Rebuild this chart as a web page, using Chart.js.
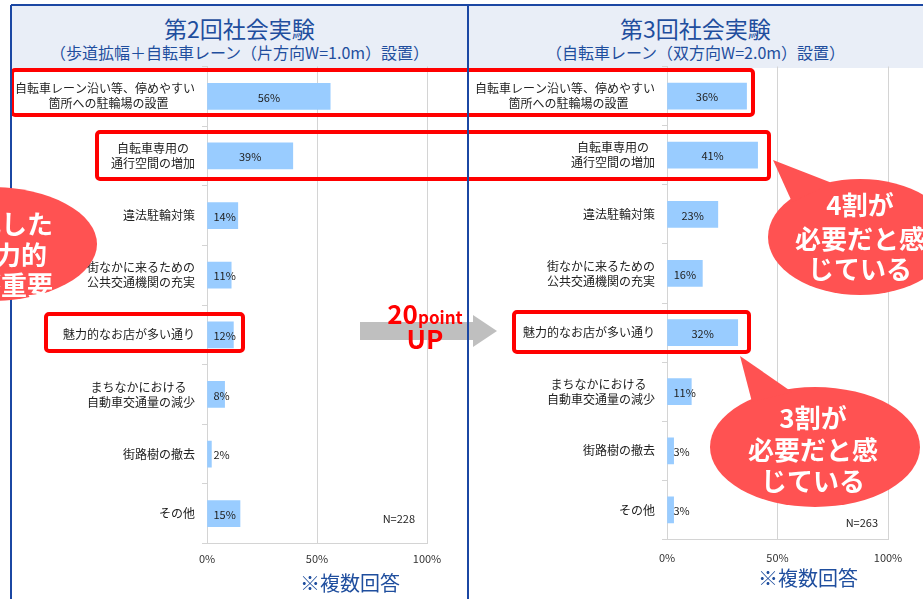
<!DOCTYPE html>
<html lang="ja">
<head>
<meta charset="utf-8">
<script src="https://cdn.jsdelivr.net/npm/chart.js@4.4.1/dist/chart.umd.min.js"></script>
<style>
  html, body { margin: 0; padding: 0; background: #fff; }
  body {
    width: 923px; height: 599px; position: relative; overflow: hidden;
    font-family: "Noto Sans CJK JP", "Noto Sans", sans-serif;
  }
  .head {
    position: absolute; top: 5px; height: 63px;
    background: #e9eef7; color: #1f4e9e; text-align: center;
  }
  .head .t1 { font-size: 23px; line-height: 28px; margin-top: 9px; }
  .head .t2 { font-size: 16px; line-height: 20px; }
  canvas { position: absolute; }
  svg { position: absolute; left: 0; top: 0; }
</style>
</head>
<body>

<div class="head" style="left:11px; width:457px;">
  <div class="t1">第2回社会実験</div>
  <div class="t2">（歩道拡幅＋自転車レーン（片方向W=1.0m）設置）</div>
</div>
<div class="head" style="left:468px; width:455px;">
  <div class="t1">第3回社会実験</div>
  <div class="t2">（自転車レーン（双方向W=2.0m）設置）</div>
</div>

<canvas id="chart2" width="457" height="540" style="left:11px; top:50px;"></canvas>
<canvas id="chart3" width="453" height="540" style="left:470px; top:50px;"></canvas>

<svg width="923" height="599" viewBox="0 0 923 599">
  <!-- arrow between the two panels -->
  <polygon points="360,322 473,322 473,315 497,331 473,347 473,340 360,340" fill="#bfbfbf"/>

  <!-- red highlight boxes -->
  <g fill="none" stroke="#ff0000" stroke-width="4">
    <rect x="12" y="70" width="741" height="45" rx="3"/>
    <rect x="97" y="132" width="672" height="47" rx="3"/>
    <rect x="46" y="314" width="197" height="37" rx="3"/>
    <rect x="514" y="312" width="235" height="40" rx="3"/>
  </g>

  <!-- panel borders -->
  <g stroke="#1b47a3" stroke-width="2">
    <line x1="11" y1="5" x2="923" y2="5"/>
    <line x1="11" y1="5" x2="11" y2="599"/>
    <line x1="468" y1="5" x2="468" y2="599"/>
  </g>

  <text x="425" y="324" text-anchor="middle" font-weight="bold" fill="#ff0000"><tspan font-size="26">20</tspan><tspan font-size="17">point</tspan></text>
  <text x="425" y="349" text-anchor="middle" font-weight="bold" font-size="26" fill="#ff0000">UP</text>

  <!-- callouts -->
  <g fill="#ff5252">
    <ellipse cx="-10" cy="244" rx="107" ry="57"/>
    <ellipse cx="860" cy="237" rx="92" ry="58"/>
    <polygon points="773,160 792,202 832,183"/>
    <ellipse cx="815" cy="447" rx="105" ry="60"/>
    <polygon points="740,356 752,402 792,392"/>
  </g>
  <g fill="#ffffff" font-weight="bold" font-size="26" dominant-baseline="central">
    <text x="53" y="222" text-anchor="end">性化した</text>
    <text x="47" y="253" text-anchor="end">な魅力的</text>
    <text x="53" y="283" text-anchor="end">が重要</text>
    <text x="860" y="203" text-anchor="middle">4割が</text>
    <text x="860" y="237" text-anchor="middle">必要だと感</text>
    <text x="860" y="267" text-anchor="middle">じている</text>
    <text x="813" y="416" text-anchor="middle">3割が</text>
    <text x="813" y="448" text-anchor="middle">必要だと感</text>
    <text x="813" y="479" text-anchor="middle">じている</text>
  </g>

  <g font-size="11" fill="#222" dominant-baseline="central" text-anchor="end">
    <text x="415" y="518">N=228</text>
    <text x="878" y="522">N=263</text>
  </g>
  <g font-size="20" fill="#1f4e9e" dominant-baseline="central">
    <text x="300" y="582">※複数回答</text>
    <text x="758" y="577">※複数回答</text>
  </g>
</svg>

<script>
// 必要だと感じる取り組み（複数回答）
const categories = [
  ['自転車レーン沿い等、停めやすい', '箇所への駐輪場の設置\u2003\u2003\u2009'],
  ['自転車専用の\u2002', '通行空間の増加'],
  '違法駐輪対策',
  ['街なかに来るための', '公共交通機関の充実'],
  '魅力的なお店が多い通り',
  ['まちなかにおける\u2002\u2009', '自動車交通量の減少'],
  '街路樹の撤去',
  'その他'
]
const values2nd = [56, 39, 14, 11, 12, 8, 2, 15]   // 第2回 N=228
const values3rd = [36, 41, 23, 16, 32, 11, 3, 3]   // 第3回 N=263
const percentTicks = [0, 50, 100]

const FONT = '"Noto Sans CJK JP", "Noto Sans", sans-serif'

// value labels: centered in the bar, pushed right when the bar is too short
const valueLabels = {
  id: 'valueLabels',
  afterDatasetsDraw(chart) {
    const ctx = chart.ctx
    const meta = chart.getDatasetMeta(0)
    const data = chart.data.datasets[0].data
    ctx.save()
    ctx.font = '11px ' + FONT
    ctx.fillStyle = '#222'
    ctx.textBaseline = 'middle'
    ctx.textAlign = 'left'
    meta.data.forEach((bar, i) => {
      const text = data[i] + '%'
      const w = ctx.measureText(text).width
      const x = Math.max((bar.base + bar.x) / 2 - w / 2, bar.base + 6)
      ctx.fillText(text, x, bar.y + 1)
    })
    ctx.restore()
  }
}

function makeChart(id, values, cfg) {
  return new Chart(document.getElementById(id), {
    type: 'bar',
    data: {
      labels: categories,
      datasets: [{
        data: values,
        backgroundColor: '#99ccff',
        barThickness: 26
      }]
    },
    options: {
      indexAxis: 'y',
      responsive: false,
      animation: false,
      layout: { padding: { top: 0, right: cfg.padRight, bottom: 20, left: 0 } },
      plugins: {
        legend: { display: false },
        tooltip: { enabled: false }
      },
      scales: {
        x: {
          min: 0,
          max: 100,
          afterBuildTicks: scale => { scale.ticks = percentTicks.map(v => ({ value: v })) },
          afterFit: scale => { scale.height = 30 },
          ticks: {
            callback: v => v + '%',
            padding: cfg.xTickPad,
            color: '#333',
            font: { size: 11, family: FONT }
          },
          grid: { color: '#d4d4d4', drawTicks: false },
          border: { color: '#d4d4d4' }
        },
        y: {
          afterFit: scale => { scale.width = cfg.yWidth },
          ticks: {
            autoSkip: false,
            padding: 7,
            color: '#222',
            font: { size: 12, family: FONT, lineHeight: 1.25 }
          },
          grid: { drawOnChartArea: false, tickLength: 5, color: '#d4d4d4' },
          border: { color: '#d4d4d4' }
        }
      }
    },
    plugins: [valueLabels]
  })
}

// the multi-line first label makes Chart.js add space on top,
// so move the canvas until the plot area sits where the original has it
function pinPlotArea(chart, wantTop, wantBottom) {
  const canvas = chart.canvas
  const top = parseFloat(canvas.style.top)
  const newTop = wantTop - chart.chartArea.top
  canvas.style.top = newTop + 'px'
  const bottomInCanvas = wantBottom - newTop
  chart.options.layout.padding.bottom += chart.chartArea.bottom - bottomInCanvas
  chart.update()
}

const chart2 = makeChart('chart2', values2nd, { yWidth: 196, xTickPad: 9, padRight: 41 })
const chart3 = makeChart('chart3', values3rd, { yWidth: 197, xTickPad: 12, padRight: 35 })
pinPlotArea(chart2, 66, 543)
pinPlotArea(chart3, 66, 539)
</script>
</body>
</html>
